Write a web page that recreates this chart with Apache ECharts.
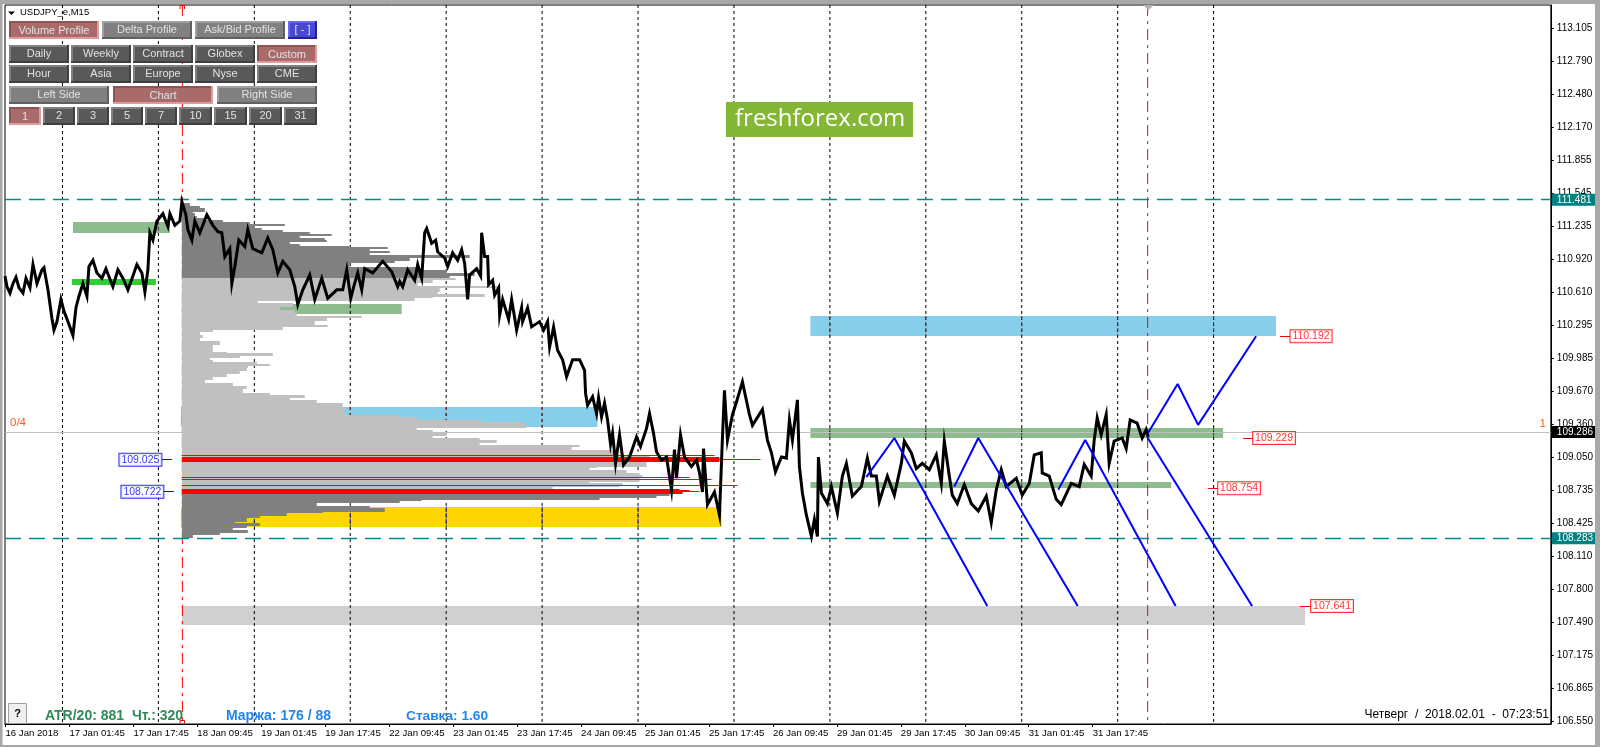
<!DOCTYPE html>
<html><head><meta charset="utf-8">
<style>html,body{margin:0;padding:0;background:#fff}#c{width:1600px;height:747px}</style>
<script src="https://cdn.jsdelivr.net/npm/echarts@6/dist/echarts.min.js"></script>
</head><body><div id="c"></div>
<script>
// ---- axis text
const priceTicks=[113.105,112.790,112.480,112.170,111.855,111.545,111.235,110.920,110.610,110.295,109.985,109.670,109.360,109.050,108.735,108.425,108.110,107.800,107.490,107.175,106.865,106.550];
const priceTags=[111.481,109.286,108.283];
const timeTicks=[5.5,69.5,133.5,197.5,261.5,325.5,389.5,453.5,517.5,581.5,645.5,709.5,773.5,837.5,901.5,965.5,1029.5,1093.5];
const timeLabels=['16 Jan 2018','17 Jan 01:45','17 Jan 17:45','18 Jan 09:45','19 Jan 01:45','19 Jan 17:45','22 Jan 09:45','23 Jan 01:45','23 Jan 17:45','24 Jan 09:45','25 Jan 01:45','25 Jan 17:45','26 Jan 09:45','29 Jan 01:45','29 Jan 17:45','30 Jan 09:45','31 Jan 01:45','31 Jan 17:45'];
const daySeparators=[62.5,158.5,254.5,350.5,446.5,542.5,638.5,734.5,830.5,926.5,1022.5,1118.5,1214.5];
const cursorLines=[182.5,1148.5];
// ---- price path
const priceBars=[5,7,10,13,16,19,23,26,30,33,37,42,44,48,52,54,57,61,64,68,73,76,79,83,87,89,93,97,102,106,113,118,123,128,133,137,142,145,148,150,153,157,163,168,170,175,180,182,186,188,192,195,200,207,213,218,222,225,230,232,235,239,245,248,253,262,268,273,278,283,290,295,298,303,310,315,322,328,337,343,347,351,354,358,362,365,373,383,392,398,
400,403,408,415,418,422,425,427,432,436,438,445,448,453,458,462,465,468,470,477,481,482,485,488,489,493,495,499,500,503,509,512,517,522,523,528,532,540,544,548,550,554,558,563,
567,573,580,585,586,588,593,597,599,602,605,608,611,613,616,620,624,630,637,641,647,650,654,657,662,667,672,675,677,681,685,692,697,700,703,704,708,715,720,723,725,728,733,737,743,750,753,763,768,772,776,782,787,790,793,798,
800,803,807,812,815,818,819,822,828,832,838,843,847,853,862,868,872,877,880,888,895,902,905,912,917,923,930,937,942,945,950,953,958,965,972,979,987,992,997,1002,1007,1017,1023,1030,1035,1042,1043,1050,1057,1062,1072,1080,1085,1092,1095,1098,1102,1107,1110,1115,1123,1127,1131,1138,1143,1147,1149];
const priceValues=[110.76,110.66,110.60,110.69,110.75,110.65,110.60,110.74,110.65,110.87,110.69,110.82,110.84,110.63,110.36,110.25,110.33,110.54,110.43,110.33,110.20,110.46,110.57,110.69,110.57,110.85,110.91,110.79,110.74,110.83,110.66,110.82,110.74,110.63,110.76,110.87,110.79,110.61,110.82,111.17,111.10,111.28,111.35,111.23,111.35,111.24,111.28,111.465,111.34,111.20,111.10,111.28,111.17,111.34,111.24,111.18,111.17,110.945,111.02,110.69,110.85,111.10,111.04,111.20,111.02,110.98,111.12,111.01,110.79,110.90,110.82,110.66,110.49,110.63,110.77,110.54,110.74,110.55,110.63,110.63,110.82,110.55,110.66,110.79,110.63,110.83,110.79,110.90,110.80,110.66,
110.71,110.66,110.82,110.72,110.87,110.74,111.17,111.21,111.07,111.10,110.99,110.93,110.85,110.98,110.91,111.01,110.88,110.54,110.77,110.83,110.76,111.17,110.945,110.945,110.68,110.72,110.58,110.65,110.39,110.54,110.35,110.54,110.25,110.46,110.33,110.46,110.28,110.33,110.25,110.33,110.09,110.28,110.06,109.97,
109.81,109.97,109.97,109.87,109.65,109.54,109.62,109.46,109.61,109.43,109.56,109.40,109.17,109.275,108.99,109.26,108.975,109.05,109.24,109.15,109.32,109.46,109.275,109.10,109.02,109.05,108.74,109.12,108.85,109.26,109.05,108.96,109.02,108.90,108.72,109.13,108.60,108.72,108.50,109.24,109.68,109.21,109.45,109.57,109.76,109.45,109.35,109.50,109.21,109.09,108.91,109.05,109.04,109.40,109.21,109.59,
108.96,108.71,108.50,108.30,108.46,108.30,109.05,108.71,108.61,108.77,108.52,108.87,108.99,108.68,108.77,109.04,108.87,108.87,108.63,108.87,108.69,108.99,109.20,109.09,108.94,108.99,108.93,109.07,108.80,109.20,108.87,108.69,108.61,108.79,108.61,108.54,108.68,108.43,108.74,108.93,108.77,108.85,108.69,108.80,109.07,109.09,108.90,108.87,108.65,108.60,108.80,108.77,108.98,108.87,109.21,109.42,109.26,109.45,108.99,109.20,109.23,109.13,109.40,109.37,109.23,109.31,109.24];
// ---- volume profile: level top, row end (bar position)
const profileLevels=[111.455,111.424,111.402,111.386,111.370,111.355,111.33,111.307,111.291,111.273,111.254,111.238,111.219,111.197,111.181,111.162,111.14,111.121,111.10,111.084,111.065,111.046,111.033,111.017,110.999,110.977,110.955,110.93,110.907,110.888,110.857,110.844,110.819,110.787,110.762,110.743,110.725,110.699,110.671,110.662,110.646,110.614,110.589,110.567,110.551,110.529,110.51,110.488,110.466,110.441,110.41,110.384,110.362,110.331,110.299,110.277,110.252,110.227,110.205,110.173,110.142,110.11,110.079,110.047,110.031,110.009,109.984,109.968,109.952,109.93,109.911,109.889,109.864,109.833,109.81,109.779,109.748,109.722,109.691,109.653,109.634,109.606,109.59,109.565,109.543,109.511,109.448,109.432,109.401,109.385,109.354,109.322,109.306,109.281,109.25,109.228,109.212,109.187,109.165,109.143,109.118,109.102,109.07,109.048,109.007,108.992,108.96,108.944,108.928,108.897,108.881,108.859,108.84,108.818,108.802,108.787,108.765,108.746,108.73,108.708,108.683,108.661,108.645,108.63,108.614,108.591,108.566,108.535,108.519,108.494,108.472,108.44,108.424,108.402,108.377,108.361,108.336,108.314,108.289,108.28];
const profileEnds=[190,200,205,205,193,195,197,205,223,250,285,255,262,283,310,332,300,325,327,290,300,350,388,370,390,370,470,410,395,350,350,420,447,475,450,456,433,418,485,498,440,438,485,433,415,258,293,293,280,295,297,362,327,315,328,283,213,200,203,200,220,213,213,227,273,240,210,213,257,270,248,247,240,227,213,205,233,247,243,270,305,290,317,343,343,345,400,417,482,525,527,417,433,447,433,480,497,480,580,572,613,617,650,650,647,647,597,590,627,640,643,640,640,590,623,620,553,600,650,670,657,600,422,400,317,370,385,323,287,260,247,235,260,247,233,248,220,193,187,183];
const valueAreaHigh=110.743, valueAreaLow=108.765;
// peak rows: top, bottom, end
const redTops=[109.072,109.048,109.036,109.030,108.862,108.843,108.787,108.746,108.738,108.731,108.716];
const redBottoms=[109.062,109.007,109.024,109.022,108.853,108.834,108.778,108.733,108.728,108.718,108.705];
const redEnds=[715,720,753,761,690,712,738,680,690,700,683];
// ---- zones: start, end, top, bottom
const zoneGreenDim=[[73,170,111.273,111.172],[182,402,110.50,110.405],[811,1224,109.325,109.23],[811,1172,108.81,108.755]];
const zoneGreenBright=[[72,156,110.733,110.675]];
const zoneBlue=[[181,598,109.524,109.335],[811,1277,110.384,110.198]];
const zoneGold=[[181,722,108.579,108.39]];
const zoneGray=[[182,1306,107.641,107.46]];
// ---- projected paths
const pathA=[[867,108.86],[895,109.23],[988,107.641]];
const pathB=[[955,108.77],[979,109.23],[1078.5,107.641]];
const pathC=[[1059,108.74],[1086,109.21],[1176.5,107.641]];
const pathD=[[1149,109.28],[1178.5,109.74],[1199,109.354],[1257,110.192]];
const pathE=[[1148,109.24],[1253,107.641]];
// ---- level boxes: centre, price, text, connector start, connector end
const redBoxes=[[1312,110.192,'110.192',1281,1292],[1275,109.229,'109.229',1244,1254],[1240,108.754,'108.754',1209,1219],[1333,107.641,'107.641',1301,1312]];
const blueBoxes=[[140.5,109.025,'109.025',162,172],[142.5,108.722,'108.722',164,174]];

const Y_MAX=113.3224,Y_MIN=106.5266,X_MIN=5,X_MAX=1552;
const crisp=(v)=>Math.round(v-0.5)+0.5;
function boxes(name,rows,color,z){return{type:'custom',name,z,silent:true,data:rows,clip:false,
 renderItem:(p,api)=>{const r=rows[p.dataIndex],a=api.coord([r[0],r[2]]),b=api.coord([r[1],r[3]]);
  const color2=typeof color==='function'?color(r):color;
  return{type:'rect',shape:{x:a[0],y:Math.round(a[1]),width:b[0]-a[0],height:Math.max(1,Math.round(b[1])-Math.round(a[1]))},style:{fill:color2}};}};}
function segs(name,rows,style,z){return{type:'custom',name,z,silent:true,data:rows,clip:false,
 renderItem:(p,api)=>{const r=rows[p.dataIndex],a=api.coord([r[0],r[2]]),b=api.coord([r[1],r[3]]);
  return{type:'line',shape:{x1:a[0],y1:r[2]===r[3]?crisp(a[1]):a[1],x2:b[0],y2:r[2]===r[3]?crisp(b[1]):b[1]},style:Object.assign({fill:null},style)};}};}
const path=(name,pts)=>({type:'line',name,z:7,data:pts,showSymbol:false,silent:true,lineStyle:{color:'#0000ff',width:2}});
function labelBoxes(name,rows,color){return{type:'scatter',name,z:9,symbolSize:0,silent:true,data:rows.map(r=>[r[0],r[1]]),
 label:{show:true,position:'inside',formatter:p=>rows[p.dataIndex][2],color,backgroundColor:'#fff',borderColor:color,borderWidth:1,padding:[1,2,0,2],fontFamily:'Liberation Sans',fontSize:10.5}};}
function tint(rects,color){const out=[];rects.forEach(r=>daySeparators.forEach(x=>{if(x>r[0]&&x<r[1])out.push([x,x,r[2],r[3]]);}));
 return segs('tint',out,{stroke:color,lineWidth:1,lineDash:[3,3]},2.5);}

const profileRows=profileLevels.map((p,i)=>[182,profileEnds[i],p,i+1<profileLevels.length?profileLevels[i+1]:p-0.01]);
const redRows=redTops.map((t,i)=>[182,redEnds[i],t,redBottoms[i]]);

// ---- interface chrome (buttons, captions)
const G=[];
function btn(x0,x1,y0,y1,text,kind){const K={dark:['#595959','#808080','#404040'],mid:['#808080','#a0a0a0','#606060'],on:['#a96a6a','#8e5454','#e09c9c'],blue:['#4848d0','#6868e8','#2020a0']}[kind];
 const w=x1-x0,h=y1-y0;
 G.push({type:'rect',z:20,shape:{x:x0,y:y0,width:w,height:h},style:{fill:K[2]}});
 G.push({type:'rect',z:20,shape:{x:x0,y:y0,width:w-2,height:h-2},style:{fill:K[1]}});
 G.push({type:'rect',z:20,shape:{x:x0+2,y:y0+2,width:w-4,height:h-4},style:{fill:K[0]}});
 G.push({type:'text',z:21,x:(x0+x1)/2,y:(y0+y1)/2+(kind==='on'?1:0),style:{text,fill:'#e2e2e2',font:'11px "Liberation Sans"',align:'center',verticalAlign:'middle'}});}
btn(9,99,21,39,'Volume Profile','on');btn(102,192,21,39,'Delta Profile','mid');btn(195,285,21,39,'Ask/Bid Profile','mid');btn(288,317,21,39,'[ - ]','blue');
[['Daily','dark'],['Weekly','dark'],['Contract','dark'],['Globex','dark'],['Custom','on']].forEach((b,i)=>btn(9+62*i,69+62*i,45,63,b[0],b[1]));
['Hour','Asia','Europe','Nyse','CME'].forEach((t,i)=>btn(9+62*i,69+62*i,65,83,t,'dark'));
btn(9,109,86,104,'Left Side','mid');btn(113,213,86,104,'Chart','on');btn(217,317,86,104,'Right Side','mid');
[[9,41,'1','on'],[43,75,'2','dark'],[77,109,'3','dark'],[111,143,'5','dark'],[145,177,'7','dark'],[179,212,'10','dark'],[214,247,'15','dark'],[249,282,'20','dark'],[284,317,'31','dark']].forEach(b=>btn(b[0],b[1],107,125,b[2],b[3]));
function txt(x,y,text,fill,font,align){G.push({type:'text',z:21,x,y,style:{text,fill,font,align:align||'left',verticalAlign:'middle'}});}
G.push({type:'polygon',z:21,shape:{points:[[8,11.5],[15,11.5],[11.5,15]]},style:{fill:'#000'}});
txt(20,12.5,'USDJPY_e,M15','#000','9.5px "Liberation Sans"');
G.push({type:'rect',z:20,shape:{x:726,y:102,width:187,height:35},style:{fill:'#84b735'}});
txt(735,119.5,'freshforex.com','#fff','24px "Open Sans"');
txt(10,423,'0/4','#ff5a1e','11.5px "Liberation Sans"');
txt(1539.5,424,'1','#ff5a1e','11.5px "Liberation Sans"');
G.push({type:'rect',z:20,shape:{x:8.5,y:703.5,width:18,height:20},style:{fill:'#f0f0f0',stroke:'#a0a0a0',lineWidth:1}});
txt(17.5,714,'?','#000','bold 11px "Liberation Sans"','center');
txt(45,716,'ATR/20: 881  Чт.: 320','#2e8b57','bold 14px "Liberation Sans"');
txt(226,716,'Маржа: 176 / 88','#1e86f0','bold 14px "Liberation Sans"');
txt(406,716,'Ставка: 1.60','#1e86f0','bold 13.7px "Liberation Sans"');
txt(1549,715,'Четверг  /  2018.02.01  -  07:23:51','#000','12px "Liberation Sans"','right');
G.push({type:'polyline',z:21,shape:{points:[[180,9],[180,5.5],[184.5,5.5],[184.5,9]]},style:{stroke:'#f00',fill:null,lineWidth:1}});
G.push({type:'polyline',z:21,shape:{points:[[180,723],[180,720.5],[184.5,720.5],[184.5,723]]},style:{stroke:'#f00',fill:null,lineWidth:1}});
G.push({type:'polygon',z:21,shape:{points:[[1143,5],[1154,5],[1148.5,10]]},style:{fill:'#b0b0b0'}});
[[0,0,1600,4],[0,0,2.5,747],[1595,0,5,747],[0,745,1600,2]].forEach(r=>G.push({type:'rect',z:22,shape:{x:r[0],y:r[1],width:r[2],height:r[3]},style:{fill:'#a8a8a8'}}));

const tagStyle=(bg)=>({color:'#fff',backgroundColor:bg,padding:[1,4,1,5],fontFamily:'Liberation Sans',fontSize:10});
const chart=echarts.init(document.getElementById('c'),null,{renderer:'canvas'});
chart.setOption({animation:false,backgroundColor:'#fff',graphic:G,
 grid:{left:5,top:5,width:1547,height:719,show:true,borderColor:'#000',borderWidth:1,backgroundColor:'#fff'},
 xAxis:{type:'value',min:X_MIN,max:X_MAX,splitLine:{show:false},
  axisLine:{show:true,lineStyle:{color:'#000',width:1}},
  axisTick:{show:true,customValues:timeTicks,length:3,lineStyle:{color:'#000'}},
  axisLabel:{customValues:timeTicks,hideOverlap:false,align:'left',margin:4,color:'#000',fontFamily:'Liberation Sans',fontSize:9.6,
   formatter:v=>timeLabels[timeTicks.indexOf(v)]||''}},
 yAxis:{type:'value',position:'right',min:Y_MIN,max:Y_MAX,splitLine:{show:false},
  axisLine:{show:true,lineStyle:{color:'#000',width:1}},
  axisTick:{show:true,customValues:priceTicks,length:3,lineStyle:{color:'#000'}},
  axisLabel:{customValues:priceTicks.concat(priceTags),hideOverlap:false,margin:1,align:'left',
   formatter:v=>{const s=v.toFixed(3);if(v===109.286)return'{k|'+s+'}';if(priceTags.includes(v))return'{t|'+s+'}';return'{n|'+s+'}';},
   rich:{n:{color:'#000',padding:[0,0,0,5],fontFamily:'Liberation Sans',fontSize:10},k:tagStyle('#000'),t:tagStyle('#008080')}}},
 series:[
  boxes('zone gray',zoneGray,'#d0d0d0',1),
  boxes('zone green',zoneGreenDim,'#8fbc8f',1),
  boxes('zone lime',zoneGreenBright,'#32cd32',1),
  boxes('zone blue',zoneBlue,'#87ceeb',1),
  boxes('zone gold',zoneGold,'#ffd700',1),
  segs('days',daySeparators.map(x=>[x,x,Y_MAX,Y_MIN]),{stroke:'#000',lineWidth:1,lineDash:[3,3]},2),
  tint(zoneGreenDim.slice(0,1).concat(zoneGreenDim.slice(2)),'#703a70'),
  tint(zoneBlue,'#8a2a20'),
  tint(zoneGold,'#0000ff'),
  segs('cursor',cursorLines.map(x=>[x,x,Y_MAX,Y_MIN]),{stroke:'#ff0000',lineWidth:1,lineDash:[11,5,3,5]},2),
  segs('last',[[X_MIN,X_MAX,109.286,109.286]],{stroke:'#c0c0c0',lineWidth:1},2),
  boxes('profile',profileRows,r=>(r[2]>valueAreaHigh||r[2]<valueAreaLow)?'#808080':'#c0c0c0',3),
  boxes('profile peaks',redRows,'#ff0000',4),
  segs('hi',[[X_MIN,X_MAX,111.481,111.481]],{stroke:'#008b8b',lineWidth:1.4,lineDash:[16,8]},5),
  segs('lo',[[X_MIN,X_MAX,108.283,108.283]],{stroke:'#008b8b',lineWidth:1.4,lineDash:[16,8]},5),
  {type:'line',name:'USDJPY',z:6,showSymbol:false,silent:true,data:priceBars.map((x,i)=>[x,priceValues[i]]),lineStyle:{color:'#000',width:3,join:'miter'}},
  path('a',pathA),path('b',pathB),path('c',pathC),path('d',pathD),path('e',pathE),
  segs('red ticks',redBoxes.map(r=>[r[3],r[4],r[1],r[1]]),{stroke:'#ff0000',lineWidth:1},8),
  segs('blue ticks',blueBoxes.map(r=>[r[3],r[4],r[1],r[1]]),{stroke:'#0000ff',lineWidth:1},8),
  labelBoxes('red',redBoxes,'#ff0000'),
  labelBoxes('blue',blueBoxes,'#0000ff')
 ]});
</script></body></html>
